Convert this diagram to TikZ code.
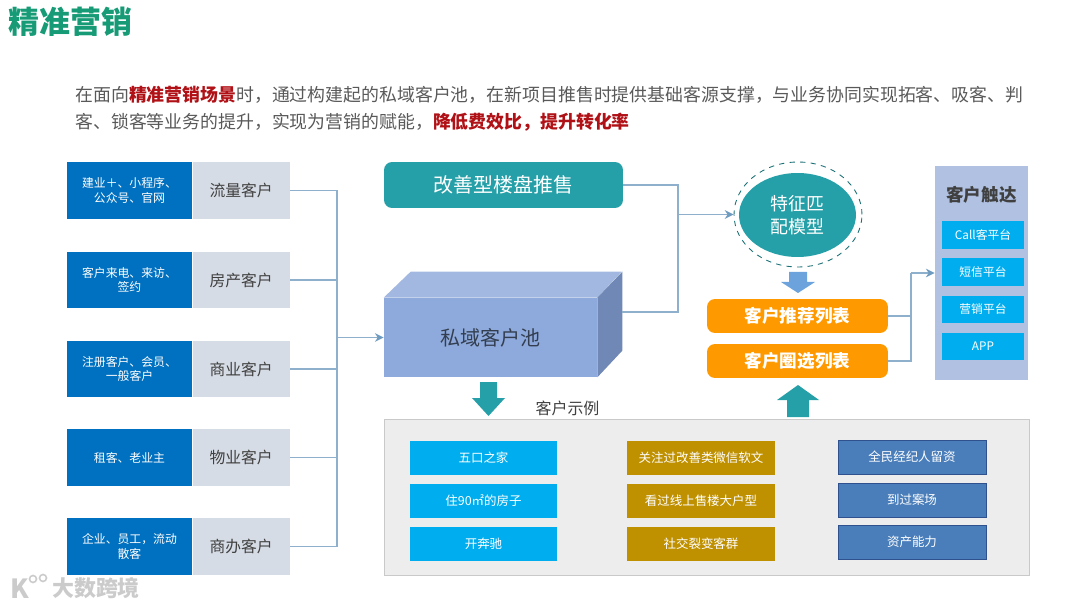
\documentclass[tikz,border=0pt]{standalone}
\usepackage{fontspec}
\setmainfont{Noto Sans CJK SC}
\usepackage{tikz}
\usetikzlibrary{shapes.geometric, arrows.meta, positioning}
\usepackage{xcolor}
\definecolor{TitleGreen}{HTML}{169B76}
\definecolor{BodyGrey}{HTML}{595959}
\definecolor{KeyRed}{HTML}{B01116}
\definecolor{SourceBlue}{HTML}{0070C0}
\definecolor{LabelGrey}{HTML}{D6DCE5}
\definecolor{DarkText}{HTML}{404040}
\definecolor{LinkBlue}{HTML}{8FB0CC}
\definecolor{TipBlue}{HTML}{6F9BBF}
\definecolor{SeaTeal}{HTML}{26A0A8}
\definecolor{PoolFront}{HTML}{8EA9DB}
\definecolor{PoolTop}{HTML}{A3B8E0}
\definecolor{PoolSide}{HTML}{7088B5}
\definecolor{PoolText}{HTML}{333F50}
\definecolor{ListOrange}{HTML}{FF9900}
\definecolor{ArrowBlue}{HTML}{6CA3DC}
\definecolor{ReachPanel}{HTML}{B0C1E2}
\definecolor{SkyBlue}{HTML}{00AEEF}
\definecolor{TagGold}{HTML}{BF9000}
\definecolor{TagBlue}{HTML}{4A7EBB}
\definecolor{TagEdge}{HTML}{2F528F}
\definecolor{PanelGrey}{HTML}{EDEDED}
\definecolor{PanelEdge}{HTML}{C9C9C9}
\definecolor{MarkGrey}{HTML}{CBCBCB}
\tikzset{
    % Box styles
    sourcebox/.style={
        rectangle,
        fill=SourceBlue,
        text=white,
        inner sep=0pt,
        minimum width=2.5cm,
        minimum height=1.14cm,
        align=center,
        font=\fontsize{6.75}{8.2}\selectfont
    },
    labelbox/.style={
        rectangle,
        fill=LabelGrey,
        text=DarkText,
        inner sep=0pt,
        minimum width=1.94cm,
        minimum height=1.14cm,
        align=center,
        font=\fontsize{9}{11}\selectfont
    },
    salebox/.style={
        rectangle,
        rounded corners=0.16cm,
        fill=SeaTeal,
        text=white,
        inner sep=0pt,
        minimum width=4.78cm,
        minimum height=0.92cm,
        font=\fontsize{11.4}{13}\selectfont
    },
    poolfront/.style={
        rectangle,
        fill=PoolFront,
        text=PoolText,
        inner sep=0pt,
        minimum width=4.26cm,
        minimum height=1.58cm,
        font=\fontsize{11.4}{13}\selectfont
    },
    modelring/.style={
        ellipse,
        draw=SeaTeal!70!black,
        dashed,
        line width=0.5pt,
        fill=white,
        inner sep=0pt,
        minimum width=2.56cm,
        minimum height=2.1cm
    },
    modelcore/.style={
        ellipse,
        fill=SeaTeal,
        text=white,
        inner sep=0pt,
        minimum width=2.34cm,
        minimum height=1.68cm,
        align=center,
        font=\fontsize{10.2}{13.2}\selectfont
    },
    listbox/.style={
        rectangle,
        rounded corners=0.16cm,
        fill=ListOrange,
        text=white,
        inner sep=0pt,
        minimum width=3.62cm,
        minimum height=0.68cm,
        font=\bfseries\fontsize{10}{12}\selectfont
    },
    reachpanel/.style={
        rectangle,
        fill=ReachPanel,
        inner sep=0pt,
        minimum width=1.86cm,
        minimum height=4.28cm
    },
    reachbox/.style={
        rectangle,
        fill=SkyBlue,
        text=white,
        inner sep=0pt,
        minimum width=1.64cm,
        minimum height=0.55cm,
        font=\fontsize{6.7}{8}\selectfont
    },
    examplepanel/.style={
        rectangle,
        draw=PanelEdge,
        fill=PanelGrey,
        line width=0.5pt,
        inner sep=0pt,
        minimum width=12.9cm,
        minimum height=3.12cm
    },
    tagbox/.style={
        rectangle,
        text=white,
        inner sep=0pt,
        minimum width=2.96cm,
        minimum height=0.68cm,
        font=\fontsize{7.1}{9}\selectfont
    },
    skytag/.style={tagbox, fill=SkyBlue},
    goldtag/.style={tagbox, fill=TagGold},
    bluetag/.style={tagbox, fill=TagBlue, draw=TagEdge, line width=0.4pt},
    % Connector styles
    link/.style={
        line width=0.8pt,
        draw=LinkBlue
    },
    linkarrow/.style={
        -{Stealth[length=5pt,width=5pt,color=TipBlue]},
        line width=0.8pt,
        draw=LinkBlue
    }
}
\begin{document}
\begin{tikzpicture}[x=0.02cm, y=-0.02cm]
    \useasboundingbox (0,0) rectangle (1080,608);

    % Heading and intro
    \node[anchor=west, inner sep=0pt, text=TitleGreen, font=\bfseries\fontsize{17.6}{20}\selectfont] (title) at (8,22) {精准营销};
    \node[anchor=west, inner sep=0pt, align=left, text=BodyGrey, font=\fontsize{10.18}{15.4}\selectfont] (intro) at (75,109)
        {在面向\textcolor{KeyRed}{\textbf{精准营销场景}}时，通过构建起的私域客户池，在新项目推售时提供基础客源支撑，与业务协同实现拓客、吸客、判\\
        客、锁客等业务的提升，实现为营销的赋能，\textcolor{KeyRed}{\textbf{降低费效比，提升转化率}}};

    % Customer sources
    \node[sourcebox] (src1) at (129.5,190.5) {建业＋、小程序、\\公众号、官网};
    \node[labelbox, right=0pt of src1] (flow) {流量客户};
    \node[sourcebox] (src2) at (129.5,280) {客户来电、来访、\\签约};
    \node[labelbox, right=0pt of src2] (estate) {房产客户};
    \node[sourcebox] (src3) at (129.5,369) {注册客户、会员、\\一般客户};
    \node[labelbox, right=0pt of src3] (retail) {商业客户};
    \node[sourcebox] (src4) at (129.5,457.5) {租客、老业主};
    \node[labelbox, right=0pt of src4] (property) {物业客户};
    \node[sourcebox] (src5) at (129.5,546.5) {企业、员工，流动\\散客};
    \node[labelbox, right=0pt of src5] (office) {商办客户};

    % Private pool, a box in three faces
    \node[poolfront] (pool) at (490.5,337.5) {私域客户池};
    \fill[PoolTop] (pool.north west) -- ++(27,-26) -- ++(211,0) -- (pool.north east) -- cycle;
    \fill[PoolSide] (pool.north east) -- ++(25,-26) -- ++(0,79) -- (pool.south east) -- cycle;

    \node[salebox] (sale) at (503.5,185) {改善型楼盘推售};

    % Matching model
    \node[modelring] (ring) at (798,214.5) {};
    \node[modelcore] (model) at (797.5,215) {特征匹\\配模型};

    \node[listbox] (recommend) at (797.5,316) {客户推荐列表};
    \node[listbox] (select) at (797.5,361) {客户圈选列表};

    % Reach channels
    \node[reachpanel] (reach) at (981.5,273) {};
    \node[text=DarkText, inner sep=0pt, font=\bfseries\fontsize{10}{12}\selectfont] (reachtitle) at (981.5,195) {客户触达};
    \node[reachbox] (call) at (983,235) {Call客平台};
    \node[reachbox] (sms) at (983,272) {短信平台};
    \node[reachbox] (market) at (983,309.5) {营销平台};
    \node[reachbox] (app) at (983,346.5) {APP};

    % Customer examples
    \node[text=DarkText, inner sep=0pt, font=\fontsize{9.1}{11}\selectfont] (exampletitle) at (567.5,408) {客户示例};
    \node[examplepanel] (examples) at (706.5,497) {};
    \node[skytag] (ex1) at (483.5,458) {五口之家};
    \node[skytag] (ex2) at (483.5,501) {住90㎡的房子};
    \node[skytag] (ex3) at (483.5,544) {开奔驰};
    \node[goldtag] (ex4) at (701,458) {关注过改善类微信软文};
    \node[goldtag] (ex5) at (701,501) {看过线上售楼大户型};
    \node[goldtag] (ex6) at (701,544) {社交裂变客群};
    \node[bluetag] (ex7) at (912,457) {全民经纪人留资};
    \node[bluetag] (ex8) at (912,500) {到过案场};
    \node[bluetag] (ex9) at (912,542) {资产能力};

    % Block arrows
    \fill[ArrowBlue] (789,272) -- (807,272) -- (807,282) -- (815,282) -- (798,293) -- (781,282) -- (789,282) -- cycle;
    \fill[SeaTeal] (480,382) -- (497,382) -- (497,398) -- (505,398) -- (488.5,416) -- (472,398) -- (480,398) -- cycle;
    \fill[SeaTeal] (787,417) -- (809,417) -- (809,400) -- (819,400) -- (798,385) -- (777,400) -- (787,400) -- cycle;

    % Joints of the connectors
    \coordinate (bus) at (337,337.5);
    \coordinate (poolside) at (622,312);
    \coordinate (merge) at (678,214.5);
    \coordinate (reachjoin) at (911,273);

    \draw[link] (flow.east) -| (bus);
    \draw[link] (estate.east) -| (bus);
    \draw[link] (retail.east) -| (bus);
    \draw[link] (property.east) -| (bus);
    \draw[link] (office.east) -| (bus);
    \draw[linkarrow] (bus) -- (pool.west);

    \draw[link] (sale.east) -| (merge);
    \draw[link] (poolside) -| (merge);
    \draw[linkarrow] (merge) -- (ring.west);

    \draw[link] (recommend.east) -| (reachjoin);
    \draw[link] (select.east) -| (reachjoin);
    \draw[linkarrow] (reachjoin) -- (reach.west);

    % Watermark
    \node[inner sep=0pt, text=MarkGrey, font=\bfseries\fontsize{12.5}{14}\selectfont] (marktext) at (96,588) {大数跨境};
    \node[inner sep=0pt, text=MarkGrey, font=\bfseries\fontsize{15}{17}\selectfont] (markk) at (20,589) {K};
    \draw[MarkGrey, line width=0.9pt] (33,579) circle (3.5);
    \draw[MarkGrey, line width=0.9pt] (43,578) circle (3.5);
\end{tikzpicture}
\end{document}
